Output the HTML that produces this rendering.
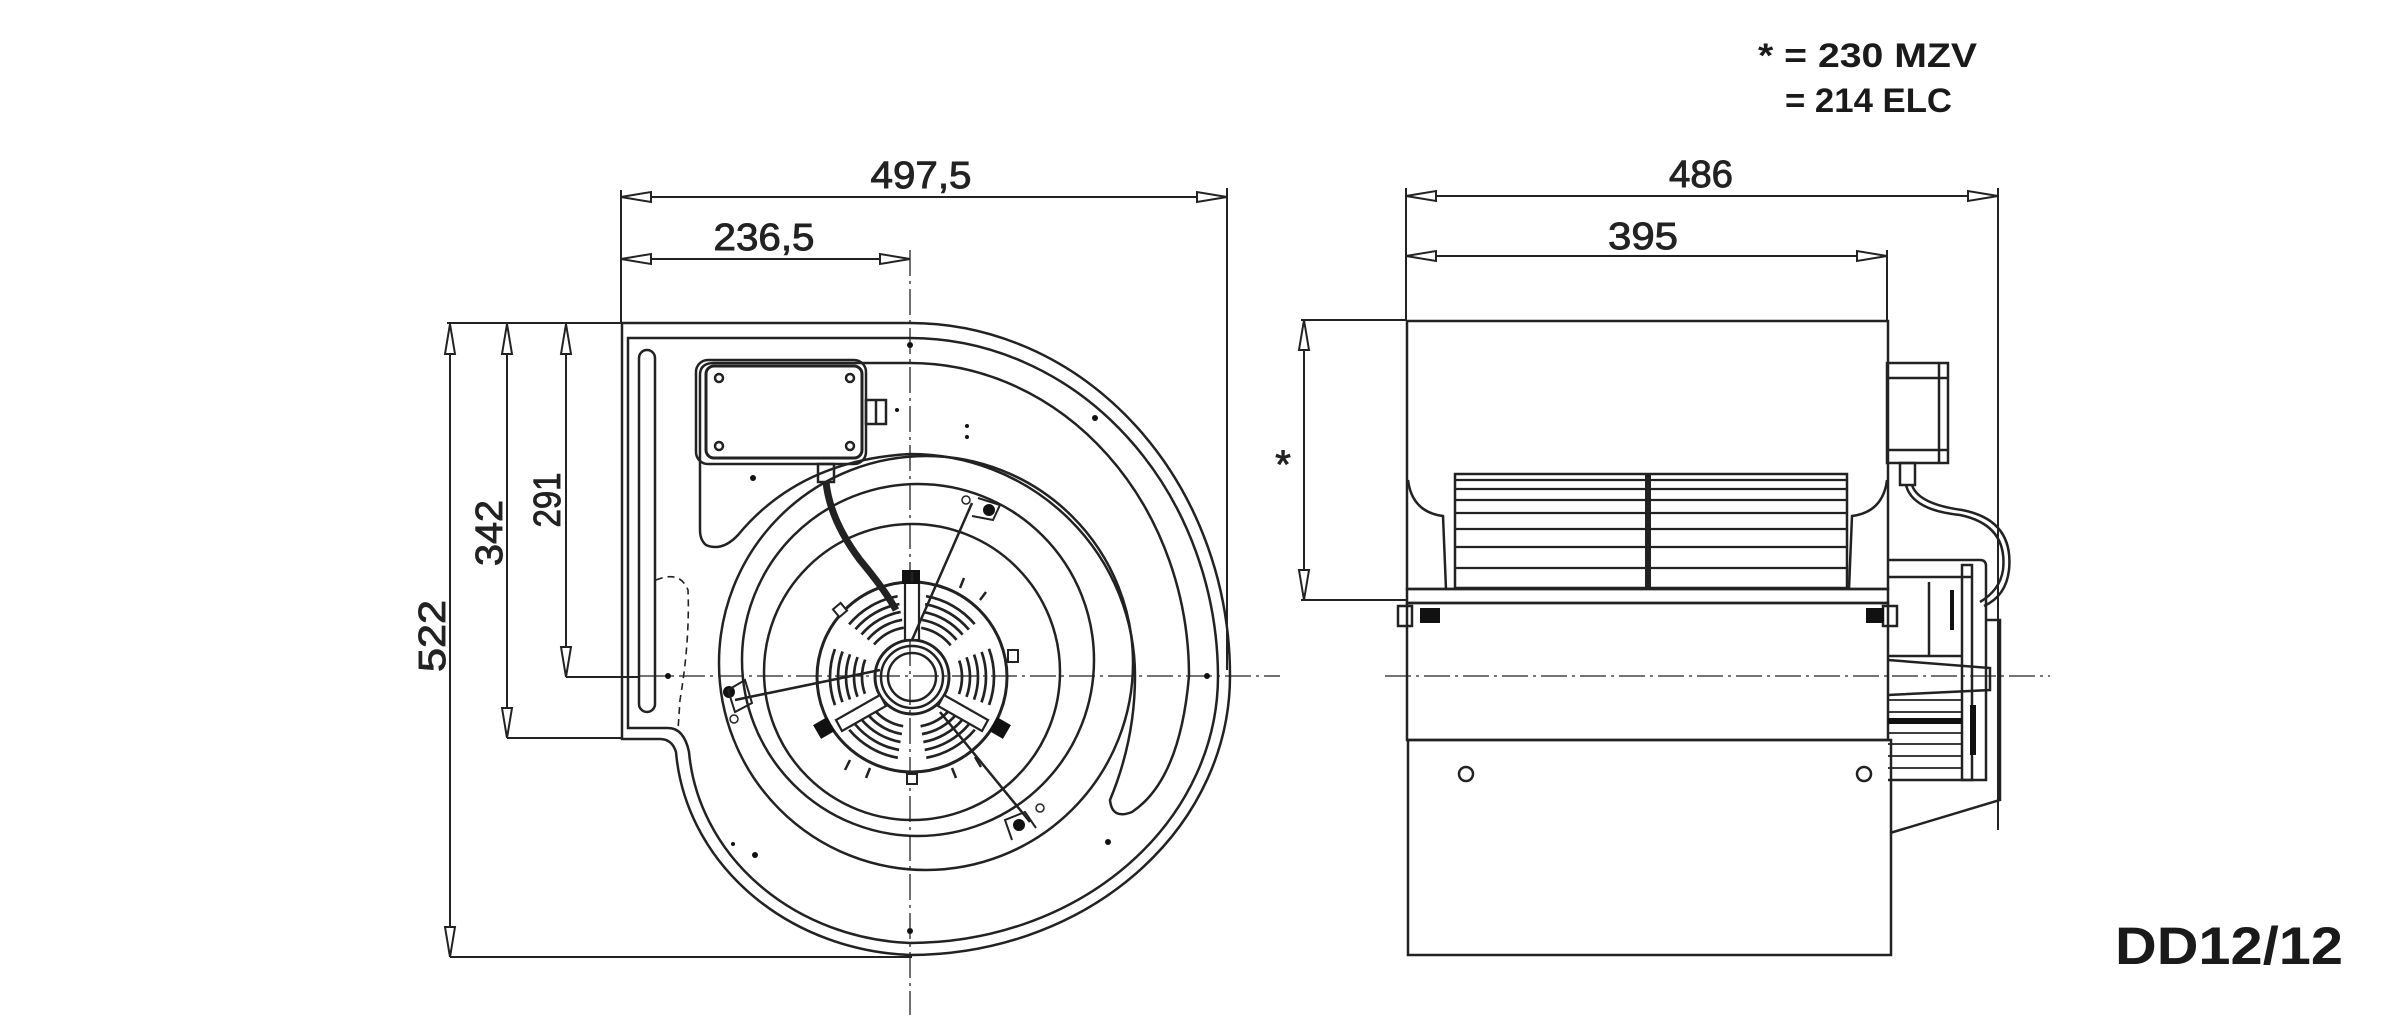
<!DOCTYPE html>
<html><head><meta charset="utf-8"><style>
html,body{margin:0;padding:0;background:#fff}
svg{display:block}
.d{font-family:"Liberation Sans Narrow","Liberation Sans",sans-serif;fill:#222;stroke:#222;stroke-width:0.9}
</style></head><body>
<svg width="2406" height="1018" viewBox="0 0 2406 1018" xmlns="http://www.w3.org/2000/svg">
<g fill="none" stroke="#222" stroke-width="2">
<line x1="621" y1="190" x2="621" y2="322"/>
<line x1="1227" y1="188" x2="1227" y2="670"/>
<line x1="621" y1="197" x2="1227" y2="197"/>
<line x1="621" y1="259" x2="910" y2="259"/>
<line x1="447" y1="323" x2="621" y2="323"/>
<line x1="450" y1="323" x2="450" y2="957"/>
<line x1="507" y1="323" x2="507" y2="738"/>
<line x1="566" y1="323" x2="566" y2="677"/>
<line x1="507" y1="738" x2="622" y2="738"/>
<line x1="566" y1="677" x2="640" y2="677"/>
<line x1="450" y1="957" x2="912" y2="957"/>
<line x1="910" y1="250" x2="910" y2="1015" stroke-width="1.3" stroke-dasharray="26 5 3 5"/>
<line x1="640" y1="676" x2="1280" y2="676" stroke-width="1.3" stroke-dasharray="26 5 3 5"/>
<line x1="1385" y1="676" x2="2050" y2="676" stroke-width="1.3" stroke-dasharray="26 5 3 5"/>
<line x1="1406" y1="188" x2="1406" y2="320"/>
<line x1="1998" y1="188" x2="1998" y2="830"/>
<line x1="1887" y1="250" x2="1887" y2="320"/>
<line x1="1406" y1="196" x2="1998" y2="196"/>
<line x1="1406" y1="256" x2="1887" y2="256"/>
<line x1="1301" y1="320" x2="1406" y2="320"/>
<line x1="1301" y1="600" x2="1406" y2="600"/>
<line x1="1304" y1="320" x2="1304" y2="600"/>
</g>
<g fill="#fff" stroke="#222" stroke-width="2">
<polygon points="621,197 651,192 651,202"/><polygon points="1227,197 1197,192 1197,202"/>
<polygon points="621,259 651,254 651,264"/><polygon points="910,259 880,254 880,264"/>
<polygon points="1406,196 1436,191 1436,201"/><polygon points="1998,196 1968,191 1968,201"/>
<polygon points="1406,256 1436,251 1436,261"/><polygon points="1887,256 1857,251 1857,261"/>
<polygon points="450,324 445,354 455,354"/><polygon points="450,957 445,927 455,927"/>
<polygon points="507,324 502,354 512,354"/><polygon points="507,738 502,708 512,708"/>
<polygon points="566,324 561,354 571,354"/><polygon points="566,677 561,647 571,647"/>
<polygon points="1304,320 1299,350 1309,350"/><polygon points="1304,600 1299,570 1309,570"/>
</g>
<g fill="none" stroke="#222" stroke-width="2.5">
<path d="M622,323 L910,323 A320 353 0 0 1 1230,676 A320 279 0 0 1 910,955 A245 220 0 0 1 676,752 Q672,739 660,739 L622,739 Z"/>
<path d="M628,338 L910,338 A308 340 0 0 1 1218,676 A308 267 0 0 1 910,943 A232 208 0 0 1 689,752 Q684,728 668,728 L628,728 Z"/>
<rect x="639" y="350" width="16" height="362" rx="8"/>
<path d="M700,375 Q700,363 714,363 L910,363 A279 313 0 0 1 1189,676 Q1180,780 1132,812 Q1112,820 1110,800 Q1135,740 1135,676 A225 222 0 0 0 910,454 Q800,460 738,535 Q722,552 706,545 Q700,540 700,530 Z"/>
<circle cx="926" cy="663" r="207"/>
<circle cx="918" cy="660" r="176"/>
<circle cx="912" cy="672" r="148"/>
<path d="M656,580 Q680,570 688,590 Q690,640 680,700 L678,730" stroke-dasharray="7 5" stroke-width="1.6"/>
<rect x="696" y="360" width="170" height="104" rx="12"/>
<rect x="706" y="366" width="156" height="92" rx="8" stroke-width="3"/>
<circle cx="719" cy="378" r="4"/><circle cx="850" cy="378" r="4"/>
<circle cx="719" cy="446" r="4"/><circle cx="850" cy="446" r="4"/>
<rect x="866" y="400" width="20" height="24"/><line x1="876" y1="400" x2="876" y2="424"/>
<rect x="818" y="464" width="16" height="18"/>
<circle cx="912" cy="677" r="95" stroke-width="3"/>
<circle cx="912" cy="677" r="37" stroke-width="3"/>
<circle cx="912" cy="677" r="31"/>
<circle cx="912" cy="677" r="24"/>
</g>
<g fill="none" stroke="#222" stroke-width="2.7">
<circle cx="912" cy="677" r="50" stroke-dasharray="34.9 17.5" stroke-dashoffset="-34.9"/>
<circle cx="912" cy="677" r="58" stroke-dasharray="40.5 20.2" stroke-dashoffset="-40.5"/>
<circle cx="912" cy="677" r="66" stroke-dasharray="46.1 23" stroke-dashoffset="-46.1"/>
<circle cx="912" cy="677" r="74" stroke-dasharray="51.7 25.8" stroke-dashoffset="-51.7"/>
<circle cx="912" cy="677" r="82" stroke-dasharray="57.2 28.6" stroke-dashoffset="-57.2"/>
</g>
<g fill="#fff" stroke="#222" stroke-width="2.2">
<rect x="905" y="580" width="14" height="60"/>
<polygon points="880,695 836,720 842,731 886,706"/>
<polygon points="944,695 988,720 982,731 938,706"/>
</g>
<g fill="#111">
<rect x="902" y="570" width="18" height="14"/>
<rect x="816" y="720" width="16" height="16" transform="rotate(-30 824 728)"/>
<rect x="992" y="720" width="16" height="16" transform="rotate(30 1000 728)"/>
<circle cx="989" cy="510" r="6"/><circle cx="729" cy="692" r="6"/><circle cx="1019" cy="825" r="6"/>
<circle cx="910" cy="345" r="3"/><circle cx="1095" cy="418" r="3"/><circle cx="753" cy="478" r="3"/>
<circle cx="967" cy="426" r="2"/><circle cx="967" cy="437" r="2"/><circle cx="897" cy="410" r="2"/>
<circle cx="1207" cy="676" r="3"/><circle cx="668" cy="676" r="3"/><circle cx="910" cy="931" r="3"/>
<circle cx="1108" cy="842" r="3"/><circle cx="755" cy="855" r="3"/><circle cx="733" cy="844" r="2"/>
</g>
<g fill="none" stroke="#222" stroke-width="2.5">
<line x1="912" y1="640" x2="972" y2="503"/>
<line x1="880" y1="670" x2="735" y2="700"/>
<line x1="940" y1="712" x2="1030" y2="822"/>
<path d="M728,690 L745,680 L752,703 L735,712 Z" stroke-width="2"/>
<path d="M978,498 L1000,505 L993,520 L972,516" stroke-width="2"/>
<path d="M1012,840 L1005,820 L1025,812 L1036,828" stroke-width="2"/>
<circle cx="966" cy="500" r="4" stroke-width="1.5"/><circle cx="734" cy="719" r="4" stroke-width="1.5"/><circle cx="1040" cy="808" r="4" stroke-width="1.5"/>
<path d="M826,482 Q830,520 860,560 Q885,590 896,610" stroke-width="7"/>
</g>
<g stroke="#222" stroke-width="2.5">
<line x1="912" y1="582" x2="912" y2="572"/><line x1="1007" y1="660" x2="1017" y2="660"/>
<line x1="850" y1="760" x2="845" y2="770"/><line x1="870" y1="768" x2="866" y2="778"/>
<line x1="952" y1="768" x2="956" y2="778"/><line x1="975" y1="757" x2="981" y2="767"/>
<line x1="960" y1="588" x2="964" y2="578"/><line x1="980" y1="600" x2="986" y2="592"/>
</g>
<g fill="#fff" stroke="#222" stroke-width="2"><rect x="1008" y="650" width="10" height="12"/><rect x="907" y="774" width="10" height="10"/><rect x="835" y="605" width="10" height="10" transform="rotate(-40 840 610)"/></g>

<g fill="none" stroke="#222" stroke-width="2.5">
<rect x="1407" y="321" width="481" height="268"/>
<rect x="1407" y="589" width="481" height="14"/>
<rect x="1407" y="603" width="481" height="137"/>
<rect x="1408" y="740" width="483" height="215"/>
<path d="M1408,480 Q1412,512 1443,516 L1446,589"/>
<path d="M1887,480 Q1883,512 1852,516 L1849,589"/>
<rect x="1455" y="474" width="392" height="114"/>
<line x1="1648" y1="474" x2="1648" y2="589" stroke-width="6"/>
<g stroke-width="2.2">
<line x1="1455" y1="480" x2="1847" y2="480"/><line x1="1455" y1="489" x2="1847" y2="489"/>
<line x1="1455" y1="500" x2="1847" y2="500"/><line x1="1455" y1="513" x2="1847" y2="513"/>
<line x1="1455" y1="529" x2="1847" y2="529"/><line x1="1455" y1="547" x2="1847" y2="547"/>
<line x1="1455" y1="568" x2="1847" y2="568"/>
</g>
<circle cx="1466" cy="774" r="7"/><circle cx="1864" cy="774" r="7"/>
<rect x="1398" y="606" width="14" height="20"/><rect x="1883" y="606" width="14" height="20"/>
<rect x="1887" y="363" width="61" height="100"/>
<line x1="1887" y1="378" x2="1948" y2="378"/><line x1="1887" y1="450" x2="1948" y2="450"/><line x1="1939" y1="363" x2="1939" y2="463"/>
<rect x="1900" y="463" width="15" height="22"/>
<path d="M1906,485 Q1912,510 1960,515 Q2008,525 2003,570 Q2000,590 1980,602"/>
<path d="M1912,485 Q1918,504 1962,510 Q2014,520 2009,570 Q2006,596 1984,606"/>
<path d="M1888,560 L1980,560 Q1986,560 1986,566 L1986,780 L1888,780"/>
<line x1="1888" y1="577" x2="1972" y2="577"/>
<line x1="1888" y1="656" x2="1962" y2="656"/>
<line x1="1929" y1="582" x2="1929" y2="656"/>
<rect x="1962" y="565" width="10" height="215"/>
<path d="M1986,620 L2000,620 L2000,800 L1890,833"/>
<path d="M1888,660 L1990,668 L1990,690 L1888,695"/>
<g stroke-width="1.8">
<line x1="1888" y1="700" x2="1962" y2="700"/><line x1="1888" y1="712" x2="1962" y2="712"/>
<line x1="1888" y1="722" x2="1962" y2="722"/><line x1="1888" y1="733" x2="1962" y2="733"/>
<line x1="1888" y1="744" x2="1962" y2="744"/><line x1="1888" y1="756" x2="1962" y2="756"/>
<line x1="1888" y1="768" x2="1962" y2="768"/>
</g>
</g>
<g fill="#111">
<rect x="1420" y="608" width="20" height="15"/><rect x="1866" y="608" width="18" height="15"/>
<rect x="1950" y="590" width="4" height="40"/><rect x="1970" y="705" width="6" height="50"/>
<rect x="1888" y="718" width="74" height="6"/>
</g>

<g class="d" font-size="38">
<text x="921" y="188" text-anchor="middle" textLength="101" lengthAdjust="spacingAndGlyphs">497,5</text>
<text x="764" y="250" text-anchor="middle" textLength="101" lengthAdjust="spacingAndGlyphs">236,5</text>
<text x="1701" y="187" text-anchor="middle" textLength="64" lengthAdjust="spacingAndGlyphs">486</text>
<text x="1643" y="249" text-anchor="middle" textLength="70" lengthAdjust="spacingAndGlyphs">395</text>
<text transform="translate(445 636) rotate(-90)" text-anchor="middle" textLength="72" lengthAdjust="spacingAndGlyphs">522</text>
<text transform="translate(502 533) rotate(-90)" text-anchor="middle" textLength="66" lengthAdjust="spacingAndGlyphs">342</text>
<text transform="translate(560 500) rotate(-90)" text-anchor="middle" textLength="55" lengthAdjust="spacingAndGlyphs">291</text>
<text x="1283" y="478" text-anchor="middle" font-size="40">*</text>
</g>
<g font-family="Liberation Sans, sans-serif" font-weight="bold" fill="#1a1a1a">
<text x="1758" y="67" font-size="34" textLength="219" lengthAdjust="spacingAndGlyphs">* = 230 MZV</text>
<text x="1785" y="112" font-size="34" textLength="167" lengthAdjust="spacingAndGlyphs">= 214 ELC</text>
<text x="2115" y="964" font-size="53" textLength="228" lengthAdjust="spacingAndGlyphs">DD12/12</text>
</g>
</svg>
</body></html>
